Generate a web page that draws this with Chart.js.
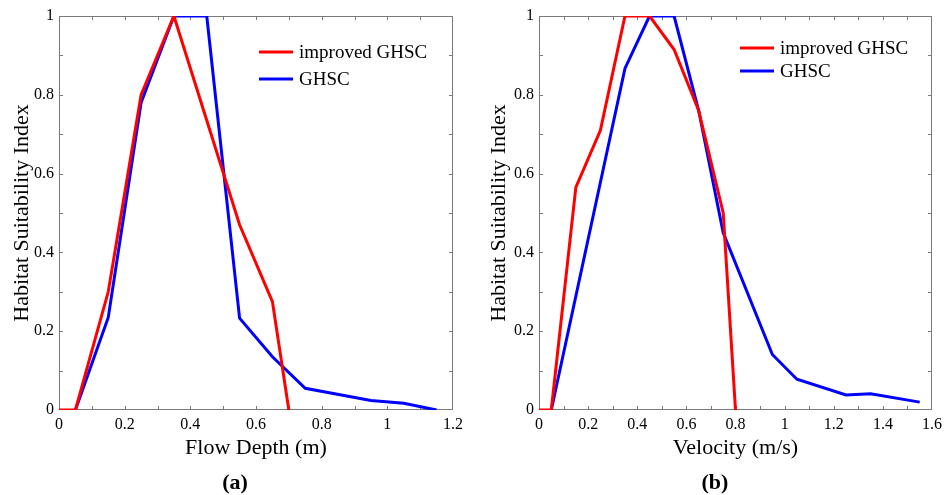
<!DOCTYPE html>
<html>
<head>
<meta charset="utf-8">
<script src="https://cdn.jsdelivr.net/npm/chart.js@4.4.0/dist/chart.umd.min.js"></script>
<style>
  html, body { margin: 0; padding: 0; background: #fff; }
  body { width: 947px; height: 495px; position: relative; overflow: hidden; font-family: "Liberation Serif", "Times New Roman", serif; }
  canvas { position: absolute; top: 0; }
  #chartA { left: 0; }
  #chartB { left: 477px; }
  .tag { position: absolute; top: 471px; width: 60px; text-align: center; font-weight: bold; font-size: 22px; line-height: 22px; color: #000; }
</style>
</head>
<body>
<canvas id="chartA" width="477" height="495"></canvas>
<canvas id="chartB" width="470" height="495"></canvas>
<div class="tag" style="left:205px">(a)</div>
<div class="tag" style="left:685px">(b)</div>
<script>
// (a) flow depth
const depthImprovedX = [0, 0.05, 0.15, 0.25, 0.35, 0.55, 0.65, 0.7];
const depthImprovedY = [0, 0, 0.3, 0.8, 1, 0.47, 0.275, 0];
const depthGhscX = [0.05, 0.15, 0.25, 0.35, 0.45, 0.55, 0.65, 0.75, 0.95, 1.05, 1.15];
const depthGhscY = [0, 0.235, 0.78, 1, 1, 0.233, 0.135, 0.055, 0.024, 0.017, 0];

// (b) velocity
const velImprovedX = [0, 0.05, 0.15, 0.25, 0.35, 0.45, 0.55, 0.65, 0.75, 0.8];
const velImprovedY = [0, 0, 0.565, 0.71, 1, 1, 0.915, 0.76, 0.5, 0];
const velGhscX = [0.05, 0.35, 0.45, 0.55, 0.65, 0.75, 0.95, 1.05, 1.25, 1.35, 1.55];
const velGhscY = [0, 0.867, 1, 1, 0.76, 0.45, 0.141, 0.078, 0.038, 0.041, 0.02];

const seriesNames = ['improved GHSC', 'GHSC'];
const seriesColors = ['#ff0000', '#0000ff'];
const yTicks = [0, 0.2, 0.4, 0.6, 0.8, 1];
const depthTicks = [0, 0.2, 0.4, 0.6, 0.8, 1, 1.2];
const velTicks = [0, 0.2, 0.4, 0.6, 0.8, 1, 1.2, 1.4, 1.6];

const FONT = '"Liberation Serif", "Times New Roman", serif';

function toPoints(xs, ys) {
    return xs.map((x, i) => ({ x: x, y: ys[i] }));
}

// frame, inward ticks on all four sides, legend inside the plot
const framePlugin = {
    id: 'frame',
    beforeDatasetsDraw(chart) {
        const { ctx, chartArea: a, scales } = chart;
        const len = 4;
        ctx.save();
        ctx.strokeStyle = '#7a7a7a';
        ctx.lineWidth = 1;
        ctx.strokeRect(a.left + 0.5, a.top + 0.5, a.right - a.left - 1, a.bottom - a.top - 1);
        ctx.beginPath();
        const xMax = scales.x.max;
        for (let i = 1; i * 0.1 < xMax - 1e-6; i++) {
            const px = Math.round(scales.x.getPixelForValue(i * 0.1)) + 0.5;
            ctx.moveTo(px, a.bottom); ctx.lineTo(px, a.bottom - len);
            ctx.moveTo(px, a.top); ctx.lineTo(px, a.top + len);
        }
        for (let i = 1; i < 10; i++) {
            const py = Math.round(scales.y.getPixelForValue(i * 0.1)) + 0.5;
            ctx.moveTo(a.left, py); ctx.lineTo(a.left + len, py);
            ctx.moveTo(a.right, py); ctx.lineTo(a.right - len, py);
        }
        ctx.stroke();
        ctx.restore();
    },
    afterDatasetsDraw(chart, args, opts) {
        const ctx = chart.ctx;
        ctx.save();
        ctx.font = '19px ' + FONT;
        ctx.textBaseline = 'middle';
        ctx.fillStyle = '#000';
        chart.data.datasets.forEach((ds, i) => {
            const y = opts.y + i * opts.gap;
            ctx.strokeStyle = ds.borderColor;
            ctx.lineWidth = 3;
            ctx.beginPath();
            ctx.moveTo(opts.x, y);
            ctx.lineTo(opts.x + 34, y);
            ctx.stroke();
            ctx.fillText(ds.label, opts.x + 40, y + 1);
        });
        ctx.restore();
    }
};

function makeChart(id, improved, ghsc, xTicks, xTitle, yWidth, padRight, legendPos) {
    const ctx = document.getElementById(id).getContext('2d');
    return new Chart(ctx, {
        type: 'scatter',
        data: {
            datasets: [improved, ghsc].map((pts, i) => ({
                label: seriesNames[i],
                data: pts,
                showLine: true,
                borderColor: seriesColors[i],
                backgroundColor: seriesColors[i],
                borderWidth: 3,
                pointRadius: 0,
                tension: 0
            }))
        },
        plugins: [framePlugin],
        options: {
            responsive: false,
            animation: false,
            layout: { padding: { top: 16, right: padRight, bottom: 34, left: 0 } },
            plugins: {
                legend: { display: false },
                tooltip: { enabled: false },
                frame: legendPos
            },
            scales: {
                x: {
                    type: 'linear',
                    min: 0,
                    max: xTicks[xTicks.length - 1],
                    afterBuildTicks: s => { s.ticks = xTicks.map(v => ({ value: v })); },
                    afterFit: s => { s.height = 51; },
                    grid: { display: false, drawTicks: false },
                    border: { display: false },
                    ticks: {
                        padding: 5,
                        color: '#000',
                        font: { family: FONT, size: 16 },
                        maxRotation: 0,
                        callback: v => String(v)
                    },
                    title: {
                        display: true,
                        text: xTitle,
                        color: '#000',
                        font: { family: FONT, size: 22 },
                        padding: 0
                    }
                },
                y: {
                    type: 'linear',
                    min: 0,
                    max: 1,
                    afterBuildTicks: s => { s.ticks = yTicks.map(v => ({ value: v })); },
                    afterFit: s => { s.width = yWidth; },
                    grid: { display: false, drawTicks: false },
                    border: { display: false },
                    ticks: {
                        padding: 5,
                        color: '#000',
                        font: { family: FONT, size: 16 },
                        callback: v => String(v)
                    },
                    title: {
                        display: true,
                        text: 'Habitat Suitability Index',
                        color: '#000',
                        font: { family: FONT, size: 22 },
                        padding: { top: 9, bottom: 0 }
                    }
                }
            }
        }
    });
}

makeChart('chartA',
    toPoints(depthImprovedX, depthImprovedY),
    toPoints(depthGhscX, depthGhscY),
    depthTicks, 'Flow Depth (m)', 59, 24, { x: 259, y: 52, gap: 27 });

makeChart('chartB',
    toPoints(velImprovedX, velImprovedY),
    toPoints(velGhscX, velGhscY),
    velTicks, 'Velocity (m/s)', 62, 12, { x: 263, y: 48, gap: 23 });
</script>
</body>
</html>
